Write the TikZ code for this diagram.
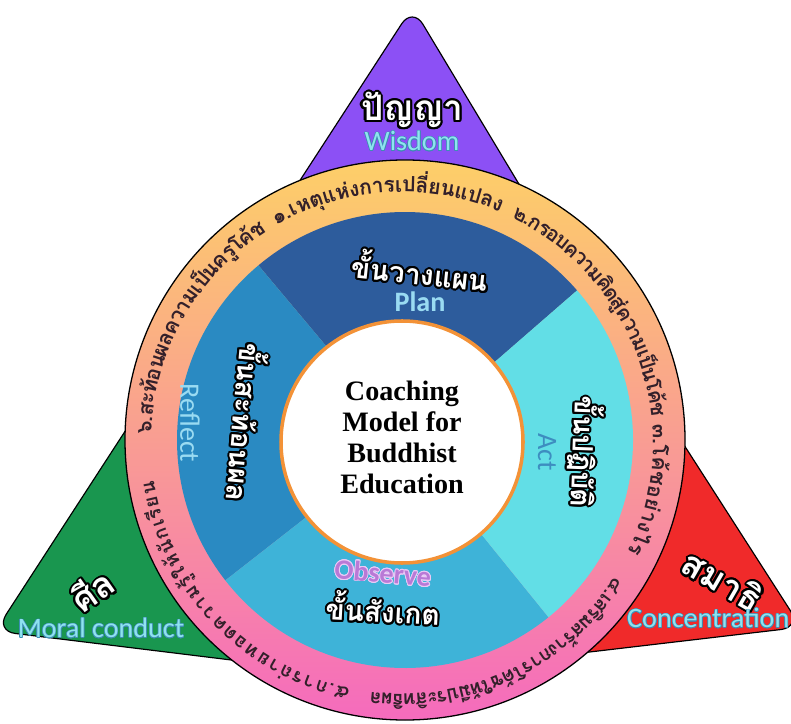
\documentclass[tikz,border=0pt]{standalone}
\usepackage{fontspec}
\usetikzlibrary{calc}
\newfontfamily\thaifont[Script=Thai]{Loma}
\newfontfamily\calfont{Carlito}
\newfontfamily\serbold{Liberation Serif}

\definecolor{wisdomfill}{HTML}{8C50F5}
\definecolor{silfill}{HTML}{19964F}
\definecolor{samadhifill}{HTML}{F02A2A}
\definecolor{ringtop}{HTML}{FDCF68}
\definecolor{ringmid}{HTML}{F8A57E}
\definecolor{ringbot}{HTML}{F56BBD}
\definecolor{planfill}{HTML}{2D5C9C}
\definecolor{reflectfill}{HTML}{2A8AC2}
\definecolor{observefill}{HTML}{3EB3D8}
\definecolor{actfill}{HTML}{62DEE6}
\definecolor{hubline}{HTML}{F39237}
\definecolor{ringink}{HTML}{33202A}
\definecolor{palecyan}{HTML}{8FE3EF}
\definecolor{paleblue}{HTML}{9ADBF2}
\definecolor{actblue}{HTML}{3D8DC0}
\definecolor{obsviolet}{HTML}{B979D6}
\definecolor{obshalo}{HTML}{EBCBF7}
\definecolor{deepteal}{HTML}{3E8DB5}

\newcommand\ringsize{18}
\newcommand\ringfont{\thaifont\bfseries\fontsize{\ringsize}{\ringsize}\selectfont}

\tikzset{
  ringlbl/.style={anchor=base, inner sep=0pt, outer sep=0pt, text=ringink},
  bigthai/.style={inner sep=0pt, text=white, font=\thaifont\bfseries\fontsize{24}{24}\selectfont},
  trithai/.style={inner sep=0pt, text=white, font=\thaifont\bfseries\fontsize{30}{30}\selectfont},
  eng/.style={inner sep=0pt, font=\calfont\fontsize{24}{24}\selectfont},
  engb/.style={inner sep=0pt, font=\calfont\bfseries\fontsize{24}{24}\selectfont},
  petal/.style={draw=black, line width=1pt, rounded corners=0.6cm},
}

% Ring text: the clusters of one segment (font size #4) are spread evenly
% from angle #2 to angle #3; the result is kept as a list
% "angle/size/cluster" in \seg#1.
\newcommand\prepseg[5]{%
  \def\ringsize{#4}%
  \xdef\segtot{0}%
  \foreach \chunk in {#5}{%
    \setbox0\hbox{\ringfont\chunk}%
    \pgfmathparse{\segtot+\the\wd0}\xdef\segtot{\pgfmathresult}%
  }%
  \pgfmathparse{((#2)-(#3))/max(\segtot,1)}\xdef\segk{\pgfmathresult}%
  \xdef\curang{#2}%
  \gdef\seglist{}%
  \foreach \chunk in {#5}{%
    \setbox0\hbox{\ringfont\chunk}%
    \pgfmathparse{\curang-\segk*\the\wd0/2}\let\midang\pgfmathresult
    \ifx\seglist\empty\xdef\seglist{\midang/\ringsize/\chunk}\else\xdef\seglist{\seglist,\midang/\ringsize/\chunk}\fi
    \setbox0\hbox{\ringfont\chunk}%
    \pgfmathparse{\curang-\segk*\the\wd0}\xdef\curang{\pgfmathresult}%
  }%
  \global\expandafter\let\csname seg#1\endcsname\seglist
}

\AtBeginDocument{%
  \prepseg{one}{120}{67}{18}{๑,.,เ,ห,ตุ,แ,ห่,ง,ก,า,ร,เ,ป,ลี่,ย,น,แ,ป,ล,ง}%
  \prepseg{two}{64}{6.1}{17.5}{๒,.,ก,ร,อ,บ,ค,ว,า,ม,คิ,ด,สู่,ค,ว,า,ม,เ,ป็,น,โ,ค้,ช}%
  \prepseg{three}{4.3}{-25.7}{18}{๓,.,โ,ค้,ช,อ,ย่,า,ง,ไ,ร}%
  \prepseg{four}{-32.2}{-97.2}{16.5}{๔,.,เ,ส,ริ,ม,ส,ร้,า,ง,ก,า,ร,โ,ค้,ช,ใ,ห้,มี,ป,ร,ะ,สิ,ท,ธิ,ผ,ล}%
  \prepseg{five}{-101.6}{-171.6}{16.5}{๕,.,ก,า,ร,ถ่,า,ย,ท,อ,ด,ค,ว,า,ม,รู้,ใ,ห้,นั,ก,เ,รี,ย,น}%
  \prepseg{six}{178}{122.6}{18}{๖,.,ส,ะ,ท้,อ,น,ผ,ล,ค,ว,า,ม,เ,ป็,น,ค,รู,โ,ค้,ช}%
}

% places the clusters of one prepared segment on the ring
\newcommand\drawseg[1]{%
  \foreach \ang/\sz/\chunk in #1{%
    \node[ringlbl, font=\thaifont\bfseries\fontsize{\sz}{\sz}\selectfont, rotate=\ang-90]
      at ($(T)+(\ang:251)$) {\chunk};
  }%
}

% text with a halo: name, style, position, halo colour, halo radius, text
\newcommand\halotext[6]{%
  \foreach \ha in {0,22.5,...,337.5}{\node[#2,text=#4,shift={(\ha:#5)}] at #3 {#6};}%
  \node[#2] (#1) at #3 {#6};%
}

\begin{document}
\begin{tikzpicture}[x=0.03cm,y=0.03cm]
\useasboundingbox (0,0) rectangle (791,723);
\clip (0,0) rectangle (791,723);

\coordinate (C) at (405,283);
\coordinate (T) at (402,280);
\coordinate (H) at (402,281);

% the three petals behind the wheel
\foreach \nm/\th/\d/\col in {wis/89/433/wisdomfill, sil/205/452/silfill, sam/-25.3/438/samadhifill}{
  \coordinate (\nm apex) at ($(C)+(\th:\d)$);
  \filldraw[petal, fill=\col] (\nm apex) -- ($(\nm apex)+(\th+180-32:380)$)
      -- ($(\nm apex)+(\th+180+32:380)$) -- cycle;
}

% outer ring
\shade[top color=ringtop, middle color=ringmid, bottom color=ringbot] (C) circle[radius=280];
\draw[line width=1.1pt] (C) circle[radius=280];

% four quarters
\fill[planfill] (C) -- ($(C)+(41:228)$) arc[start angle=41, end angle=130, radius=228] -- cycle;
\fill[reflectfill] (C) -- ($(C)+(130:228)$) arc[start angle=130, end angle=218, radius=228] -- cycle;
\fill[observefill] (C) -- ($(C)+(218:228)$) arc[start angle=218, end angle=309, radius=228] -- cycle;
\fill[actfill] (C) -- ($(C)+(309:228)$) arc[start angle=309, end angle=401, radius=228] -- cycle;

% hub
\filldraw[fill=white, draw=hubline, line width=3pt] (H) circle[radius=121];
\node[align=center, inner sep=0pt, font=\serbold\bfseries\fontsize{24}{26.5}\selectfont] (hub) at (402,286)
  {Coaching\\Model for\\Buddhist\\Education};

% ring text, tops facing outwards, running clockwise
\drawseg\segone
\drawseg\segtwo
\drawseg\segthree
\drawseg\segfour
\drawseg\segfive
\drawseg\segsix

% quarter labels
\halotext{plan}{bigthai, rotate=-6}{(420,453)}{black}{1.7pt}{ขั้นวางแผน}
\node[engb, text=paleblue] (planen) at (420,421) {Plan};
\halotext{act}{bigthai, rotate=-92}{(585,271)}{black}{1.7pt}{ขั้นปฏิบัติ}
\node[eng, text=actblue, rotate=-90] (acten) at (547,271) {Act};
\halotext{observe}{bigthai, rotate=-3}{(383,115)}{black}{1.7pt}{ขั้นสังเกต}
\halotext{observeen}{engb, text=obsviolet, rotate=-5}{(383,150)}{obshalo}{0.7pt}{Observe}
\halotext{reflect}{bigthai, rotate=-95}{(248,300)}{black}{1.7pt}{ขั้นสะท้อนผล}
\node[eng, text=paleblue, rotate=-90] (reflecten) at (190,300) {Reflect};

% petal labels
\halotext{wisdom}{trithai}{(412,613)}{black}{1.8pt}{ปัญญา}
\halotext{wisdomen}{eng, text=palecyan}{(412,582)}{deepteal}{0.5pt}{Wisdom}
\halotext{sil}{trithai, rotate=35}{(92,133)}{black}{1.8pt}{ศีล}
\halotext{silen}{eng, text=palecyan}{(101,95)}{deepteal}{0.5pt}{Moral conduct}
\halotext{samadhi}{trithai, rotate=-30}{(723,143)}{black}{1.8pt}{สมาธิ}
\halotext{samadhien}{eng, text=palecyan, anchor=west}{(627,105)}{deepteal}{0.5pt}{Concentration}
\end{tikzpicture}
\end{document}
